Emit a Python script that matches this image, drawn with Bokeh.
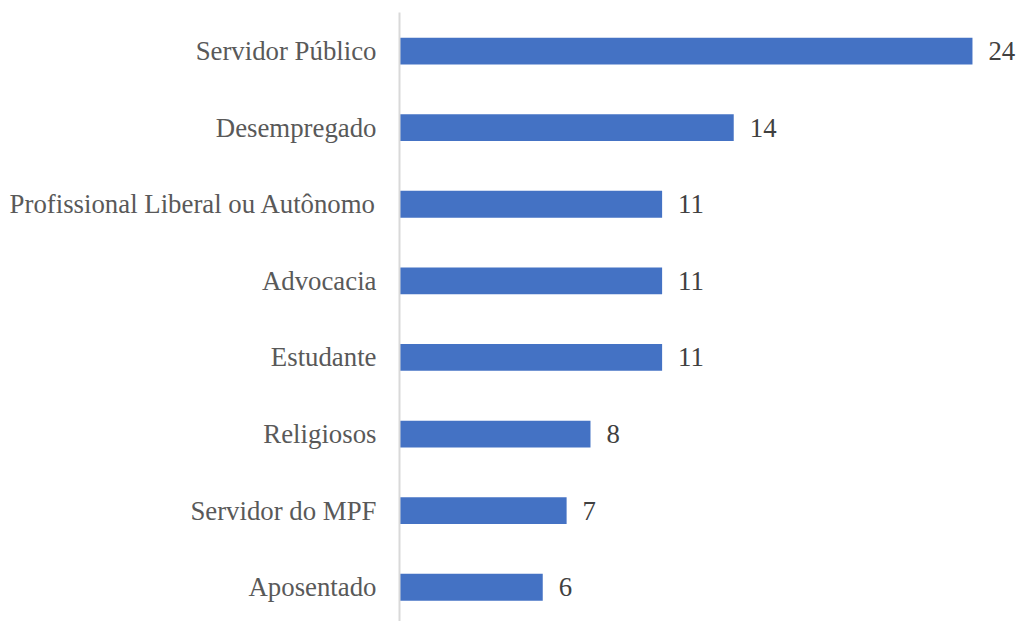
from bokeh.plotting import figure
from bokeh.models import ColumnDataSource, Range1d, FixedTicker, LinearAxis
from bokeh.core.properties import value
from bokeh.embed import file_html
from bokeh.resources import INLINE

categories = ["Servidor Público", "Desempregado", "Profissional Liberal ou Autônomo",
              "Advocacia", "Estudante", "Religiosos", "Servidor do MPF", "Aposentado"]
counts = [24, 14, 11, 11, 11, 8, 7, 6]

n = len(categories)
ypos = [n - 1 - i for i in range(n)]
src = ColumnDataSource(dict(y=ypos, v=counts, lab=[str(c) for c in counts], cat=categories))

FONT = "Liberation Serif"
FS = "26.8px"

p = figure(width=1019, height=621, output_backend="svg", toolbar_location=None,
           x_range=Range1d(0, 25.97), y_range=Range1d(-0.447, 7.503),
           min_border_left=399, min_border_right=0, min_border_top=12, min_border_bottom=0,
           x_axis_location=None, y_axis_location=None)
p.outline_line_color = None
p.xgrid.visible = False
p.ygrid.visible = False
p.background_fill_color = "white"
p.border_fill_color = "white"

p.hbar(y="y", right="v", left=0, height=0.35, source=src, fill_color="#4472C4", line_color=None)
p.text(x="v", y="y", text="lab", source=src, x_offset=16, text_baseline="middle", text_align="left",
       text_font=value(FONT), text_font_size=FS, text_color="#404040")

ax = LinearAxis(ticker=FixedTicker(ticks=ypos),
                major_label_overrides={y: c for y, c in zip(ypos, categories)})
ax.axis_line_color = "#D9D9D9"
ax.axis_line_width = 2
ax.major_tick_line_color = None
ax.minor_tick_line_color = None
ax.major_tick_out = 0
ax.major_tick_in = 0
ax.major_label_standoff = 23
ax.major_label_text_font = FONT
ax.major_label_text_font_size = FS
ax.major_label_text_color = "#595959"
p.add_layout(ax, "left")

open("out.html", "w").write(file_html(p, INLINE))
